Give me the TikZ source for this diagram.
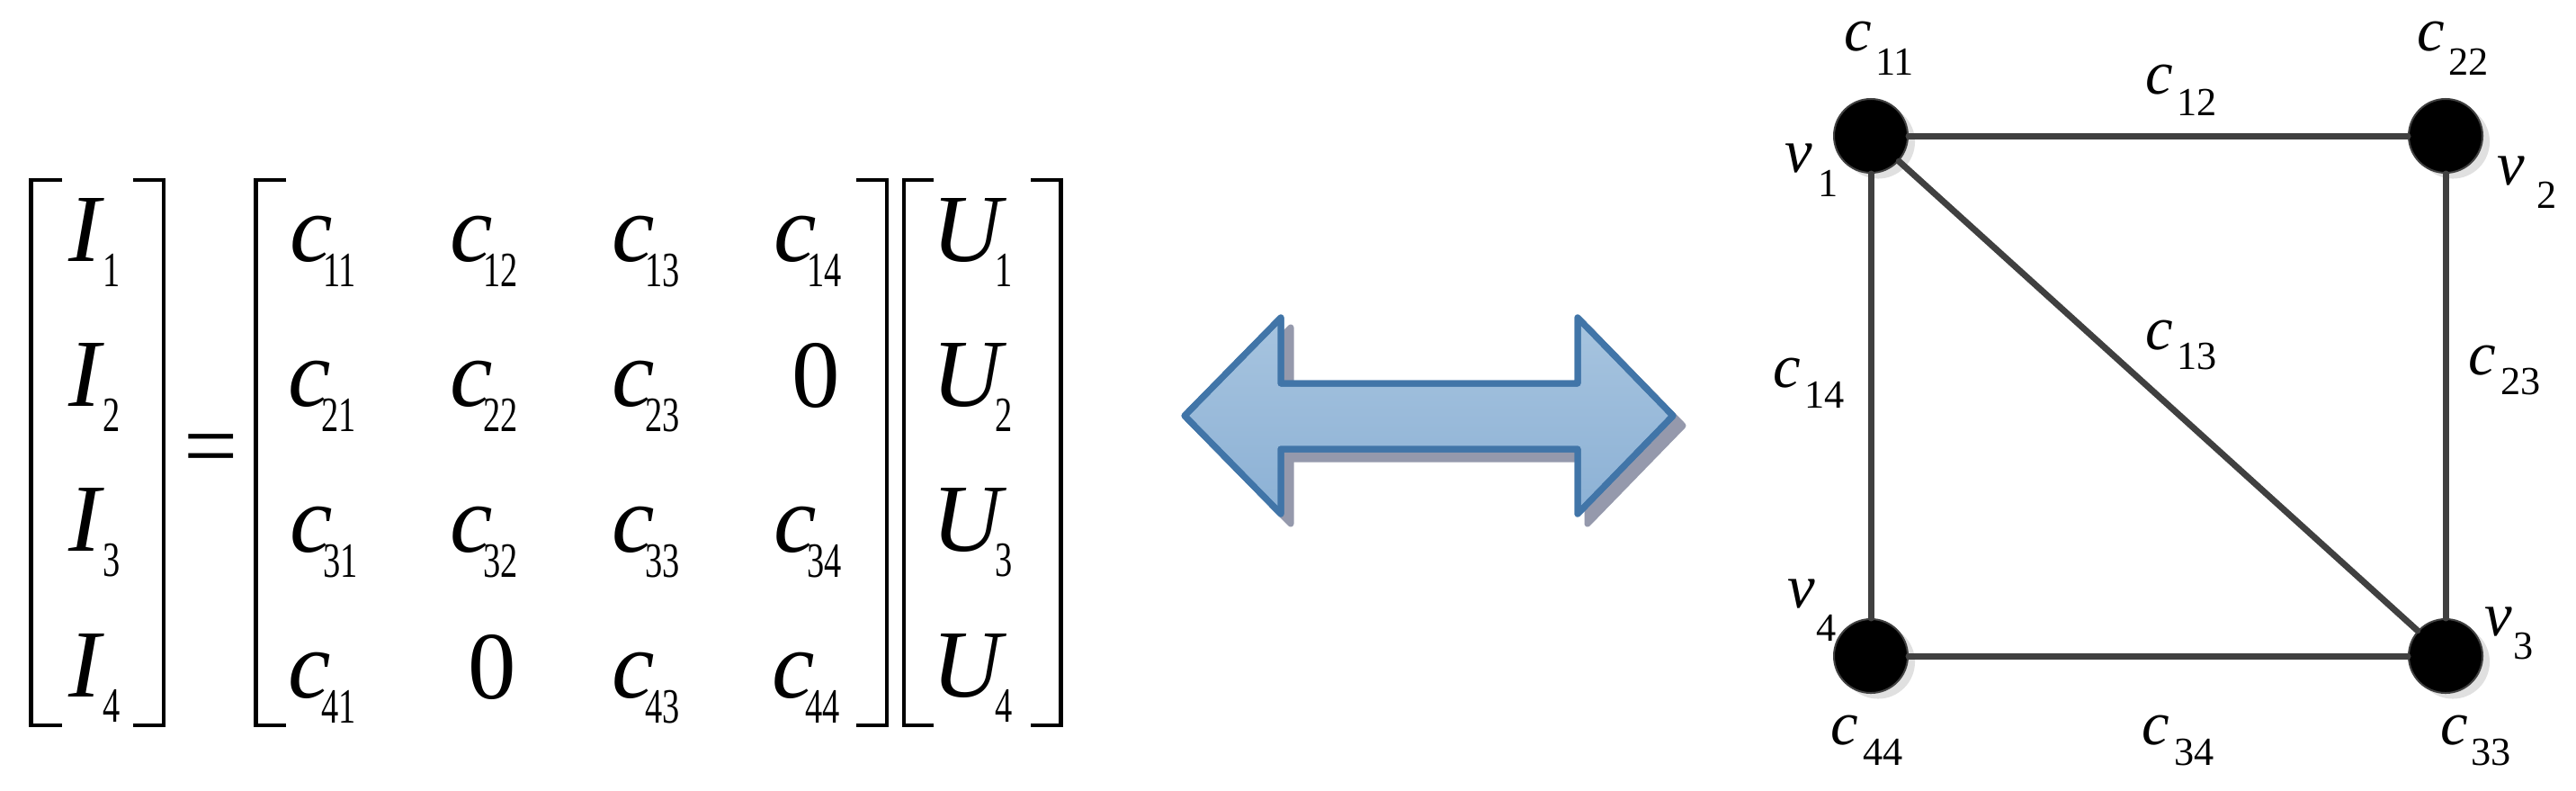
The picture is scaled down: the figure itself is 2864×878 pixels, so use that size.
\documentclass[tikz,border=0pt]{standalone}
\usepackage{fontspec}
\setmainfont{Liberation Serif}
\usepackage{graphicx}
\usetikzlibrary{shadows}

\definecolor{edgegray}{HTML}{404040}
\definecolor{arrowline}{HTML}{4175A8}
\definecolor{arrowtop}{HTML}{A7C4DF}
\definecolor{arrowbot}{HTML}{8CB1D5}
\definecolor{arrowshadow}{HTML}{9599AC}
\definecolor{nodeshadow}{HTML}{E0E0E0}

\newcommand{\MatMain}{\fontsize{30.4}{36}\selectfont}
\newcommand{\MatSub}{\fontsize{15.6}{18}\selectfont}
\newcommand{\GrMain}{\fontsize{19.6}{24}\selectfont}
\newcommand{\GrSub}{\fontsize{12.6}{15}\selectfont}
\newcommand{\sqz}[1]{\scalebox{0.7}[1]{#1}}
\newcommand{\cc}{\makebox[0.34em][l]{c}}
\newcommand{\UU}{\makebox[0.64em][l]{U}}

% matrix entry: name, x of letter, baseline, letter, x of subscript, subscript
\newcommand{\Ment}[6]{%
  \node[mtxt] (#1) at (#2,#3) {#4};
  \node[msub] (#1s) at (#5,{#3+28}) {\sqz{#6}};}
% graph label: name, x, baseline, letter, x of subscript, sub baseline, subscript
\newcommand{\Glab}[7]{%
  \node[gtxt] (#1) at (#2,#3) {#4};
  \node[gsub] (#1s) at (#5,#6) {#7};}

\begin{document}
\begin{tikzpicture}[x=0.01cm, y=-0.01cm,
  mtxt/.style={inner sep=0, outer sep=0, anchor=base west, font=\MatMain\itshape},
  mnum/.style={inner sep=0, outer sep=0, anchor=base west, font=\MatMain},
  msub/.style={inner sep=0, outer sep=0, anchor=base west, font=\MatSub},
  gtxt/.style={inner sep=0, outer sep=0, anchor=base west, font=\GrMain\itshape},
  gsub/.style={inner sep=0, outer sep=0, anchor=base west, font=\GrSub},
  bracket/.style={line width=0.045cm, line cap=butt, line join=miter},
  vertex/.style={circle, fill=black, draw=edgegray, line width=0.02cm,
    minimum size=0.82cm, inner sep=0,
    drop shadow={shadow xshift=0.08cm, shadow yshift=-0.065cm, fill=nodeshadow, opacity=1}},
  link/.style={draw=edgegray, line width=0.07cm, line cap=round}]
\useasboundingbox (0,0) rectangle (2864,878);

% ---------- brackets ----------
\draw[bracket] (69,200) -- (34.5,200) -- (34.5,806) -- (69,806);
\draw[bracket] (148,200) -- (182,200) -- (182,806) -- (148,806);
\draw[bracket] (318,200) -- (284.5,200) -- (284.5,806) -- (318,806);
\draw[bracket] (952,200) -- (986,200) -- (986,806) -- (952,806);
\draw[bracket] (1038,200) -- (1005,200) -- (1005,806) -- (1038,806);
\draw[bracket] (1146,200) -- (1179.5,200) -- (1179.5,806) -- (1146,806);

% ---------- I vector ----------
\Ment{i1}{76}{290}{I}{114}{1}
\Ment{i2}{76}{451}{I}{114}{2}
\Ment{i3}{76}{612}{I}{114}{3}
\Ment{i4}{76}{774}{I}{114}{4}

% ---------- equals ----------
\node[mnum, anchor=base] (eq) at (235,531) {=};

% ---------- coefficient matrix ----------
\Ment{m11}{322}{290}{\cc}{359}{11}
\Ment{m12}{500}{290}{\cc}{537}{12}
\Ment{m13}{680}{290}{\cc}{717}{13}
\Ment{m14}{860}{290}{\cc}{897}{14}
\Ment{m21}{320}{451}{\cc}{357}{21}
\Ment{m22}{500}{451}{\cc}{537}{22}
\Ment{m23}{680}{451}{\cc}{717}{23}
\node[mnum] (m24) at (880,452) {0};
\Ment{m31}{322}{613}{\cc}{359}{31}
\Ment{m32}{500}{613}{\cc}{537}{32}
\Ment{m33}{680}{613}{\cc}{717}{33}
\Ment{m34}{860}{613}{\cc}{897}{34}
\Ment{m41}{320}{775}{\cc}{357}{41}
\node[mnum] (m42) at (520,776) {0};
\Ment{m43}{680}{775}{\cc}{717}{43}
\Ment{m44}{858}{775}{\cc}{895}{44}

% ---------- U vector ----------
\Ment{u1}{1036}{290}{\UU}{1106}{1}
\Ment{u2}{1036}{451}{\UU}{1106}{2}
\Ment{u3}{1036}{612}{\UU}{1106}{3}
\Ment{u4}{1036}{774}{\UU}{1106}{4}

% ---------- double arrow ----------
\fill[arrowshadow, draw=arrowshadow, line width=0.07cm, line join=round, shift={(11,11)}]
  (1317,462) -- (1424,353) -- (1424,426) -- (1754,426) -- (1754,353) -- (1860,462)
  -- (1754,571) -- (1754,499) -- (1424,499) -- (1424,571) -- cycle;
\shade[top color=arrowtop, bottom color=arrowbot, draw=arrowline, line width=0.07cm, line join=round]
  (1317,462) -- (1424,353) -- (1424,426) -- (1754,426) -- (1754,353) -- (1860,462)
  -- (1754,571) -- (1754,499) -- (1424,499) -- (1424,571) -- cycle;
\draw[arrowline, line width=0.07cm, line join=round]
  (1317,462) -- (1424,353) -- (1424,426) -- (1754,426) -- (1754,353) -- (1860,462)
  -- (1754,571) -- (1754,499) -- (1424,499) -- (1424,571) -- cycle;

% ---------- graph ----------
\node[vertex] (v1) at (2080,151) {};
\node[vertex] (v2) at (2719,151) {};
\node[vertex] (v3) at (2719,729) {};
\node[vertex] (v4) at (2080,729) {};

\draw[link] (v1) -- (v2);
\draw[link] (v2) -- (v3);
\draw[link] (v4) -- (v3);
\draw[link] (v1) -- (v4);
\draw[link] (v1) -- (v3);

\Glab{g11}{2050}{56}{c}{2085}{83}{11}
\Glab{g22}{2687}{56}{c}{2722}{83}{22}
\Glab{g12}{2385}{104}{c}{2420}{128}{12}
\Glab{g13}{2385}{388}{c}{2420}{410}{13}
\Glab{g14}{1971}{430}{c}{2006}{453}{14}
\Glab{g23}{2744}{416}{c}{2780}{438}{23}
\Glab{g44}{2035}{827}{c}{2071}{850}{44}
\Glab{g34}{2381}{827}{c}{2417}{850}{34}
\Glab{g33}{2713}{827}{c}{2747}{850}{33}
\Glab{gv1}{1984}{191}{v}{2021}{218}{1}
\Glab{gv2}{2776}{205}{v}{2820}{231}{2}
\Glab{gv4}{1987}{675}{v}{2019}{712}{4}
\Glab{gv3}{2762}{706}{v}{2794}{732}{3}
\end{tikzpicture}
\end{document}
